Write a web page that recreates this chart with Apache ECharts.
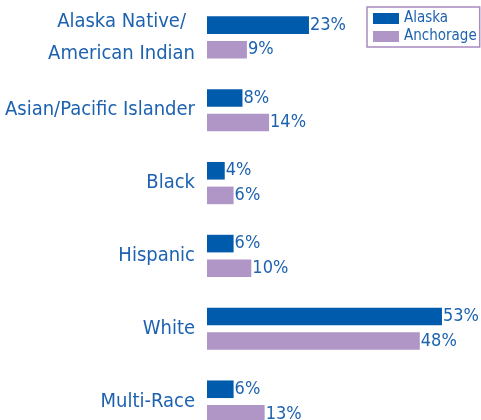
<!DOCTYPE html>
<html>
<head>
<meta charset="utf-8">
<script src="https://cdn.jsdelivr.net/npm/echarts@6/dist/echarts.min.js"></script>
<style>
  html, body { margin: 0; padding: 0; background: #fff; }
  #chart { width: 481px; height: 420px; }
</style>
</head>
<body>
<div id="chart"></div>
<script>
// Race / ethnicity share, Alaska vs Anchorage
const categories = ["Alaska Native/\nAmerican Indian", "Asian/Pacific Islander", "Black", "Hispanic", "White", "Multi-Race"];
const alaskaValues = [23, 8, 4, 6, 53, 6];
const anchorageValues = [9, 14, 6, 10, 48, 13];

const textBlue = "#1d62b0";
const fontName = "'DejaVu Sans Condensed', sans-serif";

const chart = echarts.init(document.getElementById("chart"));

const valueLabel = {
  show: true,
  position: "right",
  distance: 1,
  formatter: "{c}%",
  color: textBlue,
  fontFamily: fontName,
  fontSize: 18
};

chart.setOption({
  animation: false,
  textStyle: { fontFamily: fontName },
  grid: { left: 207, top: 1, width: 266, height: 437, outerBoundsMode: "none", containLabel: false },
  legend: {
    orient: "vertical",
    left: 367,
    top: 7,
    icon: "rect",
    itemWidth: 26,
    itemHeight: 11,
    itemGap: 3,
    padding: [4, 3, 3, 6],
    borderColor: "#a98bc0",
    borderWidth: 1.5,
    textStyle: { color: textBlue, fontSize: 15, fontFamily: fontName },
    data: ["Alaska", "Anchorage"]
  },
  xAxis: {
    type: "value",
    min: 0,
    max: 60,
    show: false
  },
  yAxis: {
    type: "category",
    inverse: true,
    data: categories,
    axisLine: { show: false },
    axisTick: { show: false },
    axisLabel: {
      margin: 12,
      color: textBlue,
      fontSize: 20,
      lineHeight: 32,
      fontFamily: fontName,
      // the two-line label is centred line by line
      formatter: (v) => v.indexOf("\n") >= 0
        ? v.split("\n").map((s) => "{c|" + s + "}").join("\n")
        : v,
      rich: {
        c: { align: "center", fontSize: 20, lineHeight: 32, color: textBlue, fontFamily: fontName }
      }
    }
  },
  series: [
    {
      name: "Alaska",
      type: "bar",
      data: alaskaValues,
      barGap: "40%",
      barCategoryGap: "42%",
      itemStyle: { color: "#005bac" },
      label: valueLabel
    },
    {
      name: "Anchorage",
      type: "bar",
      data: anchorageValues,
      itemStyle: { color: "#b096c6" },
      label: valueLabel
    }
  ]
});
</script>
</body>
</html>
